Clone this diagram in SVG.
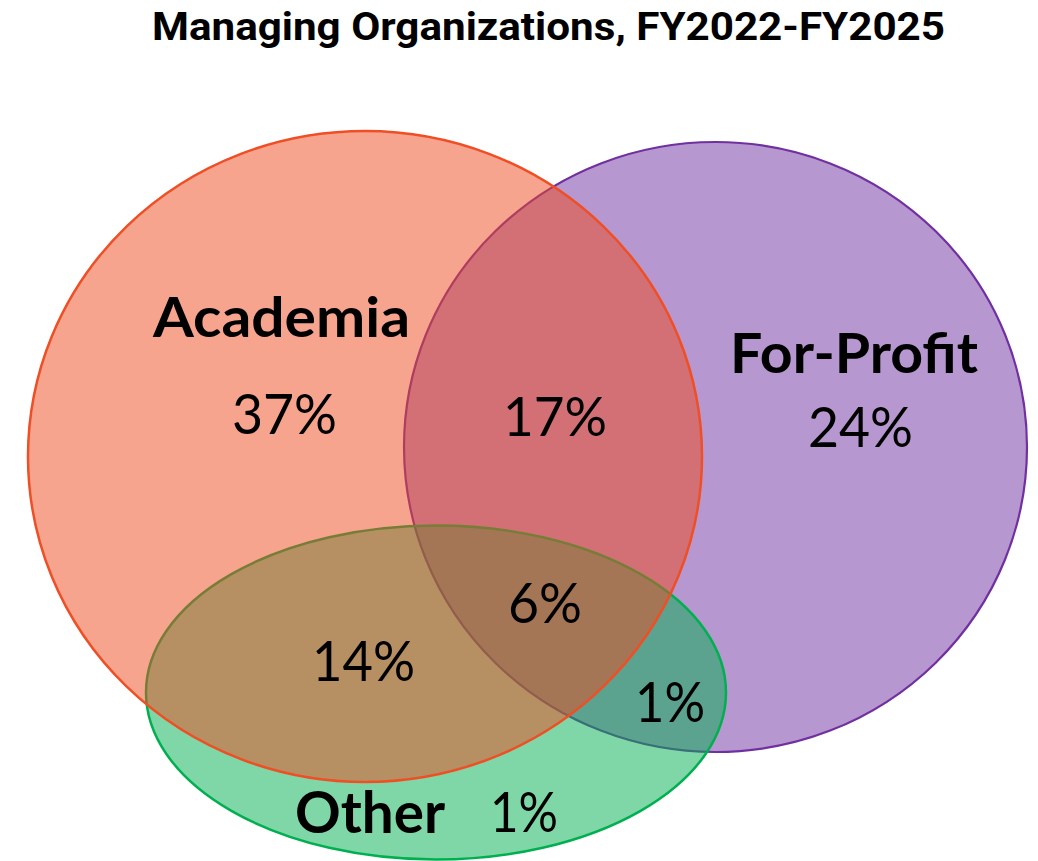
<svg xmlns="http://www.w3.org/2000/svg" width="1038" height="861" viewBox="0 0 1038 861">
  <style>
    .lbl { font-family: Lato, "Open Sans", "Liberation Sans", sans-serif; fill: #000; }
    .b { font-weight: bold; }
    .title { font-family: Roboto, Lato, "Liberation Sans", sans-serif; font-weight: bold; font-size: 38px; fill: #000; }
  </style>
  <rect width="1038" height="861" fill="#fff"/>
  <text class="title" x="152" y="40" textLength="793" lengthAdjust="spacingAndGlyphs">Managing Organizations, FY2022-FY2025</text>
  <g id="for-profit">
    <ellipse cx="715.5" cy="447" rx="311.5" ry="305" fill="#7030A0" fill-opacity="0.5" stroke="#7030A0" stroke-width="2.2"/>
  </g>
  <g id="other">
    <ellipse cx="436" cy="692.5" rx="290" ry="167" fill="#00B050" fill-opacity="0.5" stroke="#00B050" stroke-width="2.5"/>
  </g>
  <g id="academia">
    <ellipse cx="365" cy="456.5" rx="337" ry="325.5" fill="#ED491D" fill-opacity="0.5" stroke="#F04E24" stroke-width="2.5"/>
  </g>
  <g id="connectors"></g>
  <g id="labels">
    <text class="lbl b" x="153" y="337" font-size="56" textLength="257" lengthAdjust="spacingAndGlyphs">Academia</text>
    <text class="lbl" x="232" y="434" font-size="57" textLength="105" lengthAdjust="spacingAndGlyphs">37%</text>
    <text class="lbl" x="503" y="436" font-size="54" textLength="104" lengthAdjust="spacingAndGlyphs">17%</text>
    <text class="lbl b" x="730" y="373" font-size="56" textLength="248" lengthAdjust="spacingAndGlyphs">For-Profit</text>
    <text class="lbl" x="808" y="447" font-size="57" textLength="105" lengthAdjust="spacingAndGlyphs">24%</text>
    <text class="lbl" x="508" y="623" font-size="57" textLength="74" lengthAdjust="spacingAndGlyphs">6%</text>
    <text class="lbl" x="312" y="681" font-size="57" textLength="103" lengthAdjust="spacingAndGlyphs">14%</text>
    <text class="lbl" x="635" y="722" font-size="56" textLength="70" lengthAdjust="spacingAndGlyphs">1%</text>
    <text class="lbl b" x="295" y="833" font-size="57" textLength="150" lengthAdjust="spacingAndGlyphs">Other</text>
    <text class="lbl" x="490" y="832" font-size="57" textLength="68" lengthAdjust="spacingAndGlyphs">1%</text>
  </g>
</svg>
